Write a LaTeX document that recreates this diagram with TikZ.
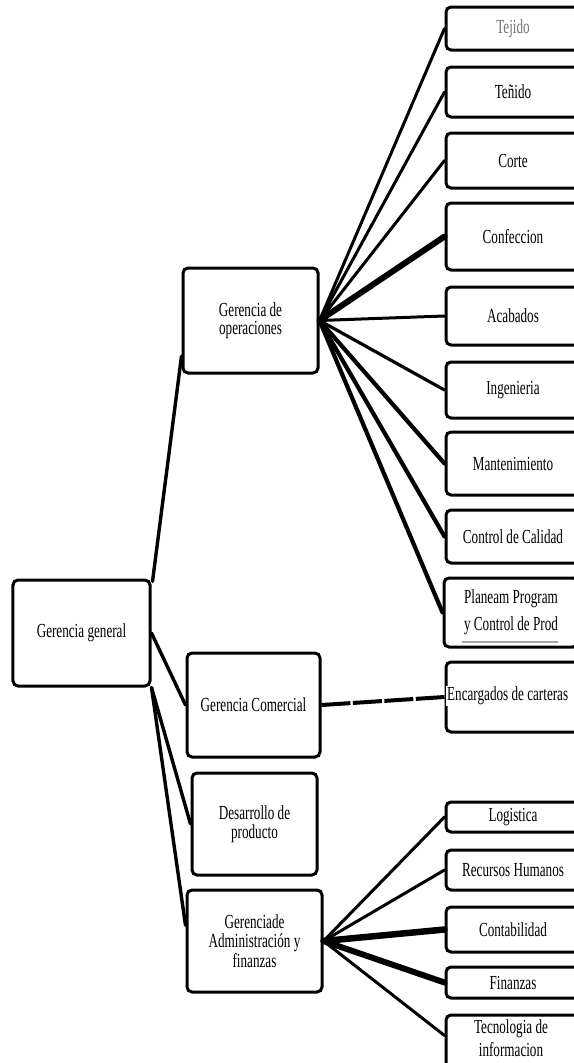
\documentclass[tikz,border=0pt]{standalone}
\usepackage{fontspec}
\setmainfont{Liberation Serif}[FakeStretch=0.66]
\usetikzlibrary{calc}
\begin{document}
\begin{tikzpicture}[x=1bp,y=-1bp,
  box/.style={draw, line width=3bp, rounded corners=5bp, fill=white,
    inner sep=0pt, align=center, font=\fontsize{20}{20}\selectfont},
  rbox/.style={box, minimum width=134bp},
  link/.style={line width=3bp, line cap=round},
  mid/.style={line width=4.2bp, line cap=round},
  heavy/.style={line width=6bp, line cap=round},
  broken/.style={line width=4bp, dash pattern=on 29bp off 2.5bp}]
\useasboundingbox (0,0) rectangle (574,1063);
\clip (0,0) rectangle (574,1063);

% left column
\node[box, minimum width=137bp, minimum height=106bp] (gg) at (81.5,633) {Gerencia general};
\node[box, minimum width=135bp, minimum height=105bp, font=\fontsize{20}{18}\selectfont] (go) at (250.5,320.5) {Gerencia de\\operaciones};
\node[box, minimum width=133bp, minimum height=104bp] (gc) at (253.5,705) {Gerencia Comercial};
\node[box, minimum width=125bp, minimum height=102bp, font=\fontsize{20}{19}\selectfont] (dp) at (254.5,824) {Desarrollo de\\producto};
\node[box, minimum width=135bp, minimum height=102bp, font=\fontsize{20}{19.5}\selectfont] (ga) at (254.5,941) {Gerenciade\\Administración y\\finanzas};

% operations units
\node[rbox, minimum height=43bp, text=black!55] (tej) at (513,28.5) {Tejido};
\node[rbox, minimum height=50bp] (ten) at (513,92) {Teñido};
\node[rbox, minimum height=55bp] (cor) at (513,160.5) {Corte};
\node[rbox, minimum height=67bp] (con) at (513,236.5) {Confeccion};
\node[rbox, minimum height=58bp] (aca) at (513,316) {Acabados};
\node[rbox, minimum height=56bp] (ing) at (513,390) {Ingenieria};
\node[rbox, minimum height=63bp] (man) at (513,463.5) {Mantenimiento};
\node[rbox, minimum height=53bp] (cal) at (513,536.5) {Control de Calidad};
\node[rbox, minimum height=69bp, font=\fontsize{20}{27}\selectfont] (pla) at (511,612.5) {Planeam Program\\y Control de Prod};
\draw[gray!70, line width=1.5bp] (462,642) -- (558,642);

% commercial unit
\node[rbox, minimum height=70bp] (enc) at (513,697) {};
\node[fill=white, inner sep=1bp, anchor=west, font=\fontsize{20}{20}\selectfont] (enct) at (446,696) {Encargados de carteras};

% administration units
\node[rbox, minimum height=30bp] (log) at (513,817) {Logistica};
\node[rbox, minimum height=40bp] (rrh) at (513,870) {Recursos Humanos};
\node[rbox, minimum height=45bp] (cnt) at (513,929.5) {Contabilidad};
\node[rbox, minimum height=31bp] (fin) at (513,982.5) {Finanzas};
\node[rbox, minimum height=80bp] (tec) at (513,1055) {};
\node[inner sep=0pt, align=center, font=\fontsize{20}{23}\selectfont] (tect) at (511,1038) {Tecnologia de\\informacion};

% general management links
\draw[link, line width=3.4bp] ($(gg.north east)+(1,3)$) -- ($(go.south west)!0.17!(go.north west)$);
\draw[link, line width=3.4bp] (gg.east) -- (gc.west);
\draw[link, line width=3.4bp] (gg.south east) -- (dp.west);
\draw[link, line width=3.4bp] (gg.south east) -- ($(ga.north west)!0.35!(ga.south west)$);

% operations fan
\draw[link] (go.east) -- (tej.west);
\draw[link] (go.east) -- (ten.west);
\draw[link] (go.east) -- (cor.west);
\draw[heavy] (go.east) -- (con.west);
\draw[link] (go.east) -- (aca.west);
\draw[link, line width=3.2bp] (go.east) -- (ing.west);
\draw[mid] (go.east) -- (man.west);
\draw[mid] (go.east) -- (cal.west);
\draw[mid] (go.east) -- (pla.west);

% commercial link
\draw[broken] (gc.east) -- (enc.west);

% administration fan
\draw[link] (ga.east) -- (log.west);
\draw[link] (ga.east) -- (rrh.west);
\draw[heavy, line width=6.5bp] (ga.east) -- (cnt.west);
\draw[heavy] (ga.east) -- (fin.west);
\draw[link] (ga.east) -- ($(tec.north west)+(0,22)$);
\end{tikzpicture}
\end{document}
